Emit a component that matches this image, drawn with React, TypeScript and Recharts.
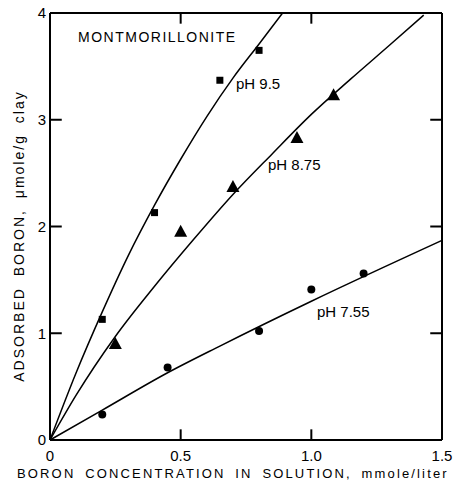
import React from 'react'
import {
  ComposedChart,
  Line,
  Scatter,
  XAxis,
  YAxis,
} from 'recharts'

// measured points
const ph95X = [0.2, 0.4, 0.65, 0.8]
const ph95Y = [1.13, 2.13, 3.37, 3.65]
const ph875X = [0.25, 0.5, 0.7, 0.945, 1.085]
const ph875Y = [0.9, 1.95, 2.37, 2.83, 3.23]
const ph755X = [0.2, 0.45, 0.8, 1.0, 1.2]
const ph755Y = [0.24, 0.68, 1.02, 1.41, 1.56]

// fitted curves
const curve95X = [0, 0.1, 0.2, 0.3, 0.4, 0.5, 0.6, 0.7, 0.8, 0.89]
const curve95Y = [0, 0.63, 1.2, 1.73, 2.2, 2.63, 3.03, 3.39, 3.71, 4.0]
const curve875X = [0, 0.1, 0.25, 0.4, 0.55, 0.7, 0.85, 1.0, 1.15, 1.3, 1.43]
const curve875Y = [0, 0.42, 0.97, 1.44, 1.88, 2.3, 2.68, 3.05, 3.38, 3.7, 3.98]
const curve755X = [0, 0.2, 0.45, 0.65, 1.0, 1.5]
const curve755Y = [0, 0.28, 0.63, 0.88, 1.3, 1.87]

const xTicks = [0, 0.5, 1, 1.5]
const xTickLabels = ['0', '0.5', '1.0', '1.5']
const yTicks = [0, 1, 2, 3, 4]
const xInner = [0.5, 1]
const yInner = [1, 2, 3]

const X_MAX = 1.5
const Y_MAX = 4
// inward tick length in data units (~11px each way)
const TX = 0.045
const TY = 0.1

const zip = (xs: number[], ys: number[]) => xs.map((x, i) => ({ x, y: ys[i] }))

// frame edges and inward ticks, built from the tick arrays
const frameSegs = [
  [{ x: 0, y: Y_MAX }, { x: X_MAX, y: Y_MAX }],
  [{ x: X_MAX, y: 0 }, { x: X_MAX, y: Y_MAX }],
]
const tickSegs = [
  ...xInner.map((v) => [{ x: v, y: 0 }, { x: v, y: TY }]),
  ...xInner.map((v) => [{ x: v, y: Y_MAX }, { x: v, y: Y_MAX - TY }]),
  ...yInner.map((v) => [{ x: 0, y: v }, { x: TX, y: v }]),
  ...yInner.map((v) => [{ x: X_MAX, y: v }, { x: X_MAX - TX, y: v }]),
]

const FONT = '"Liberation Sans", Arial, sans-serif'
const tickStyle = { fontFamily: FONT, fontSize: 15, fill: '#000' }
const axisLine = { stroke: '#000', strokeWidth: 2 }

const Square = (p: any) => (
  <rect x={p.cx - 3.5} y={p.cy - 3.5} width={7} height={7} fill="#000" />
)
const Triangle = (p: any) => (
  <polygon
    points={`${p.cx},${p.cy - 7} ${p.cx - 6.5},${p.cy + 5} ${p.cx + 6.5},${p.cy + 5}`}
    fill="#000"
  />
)
const Circle = (p: any) => <circle cx={p.cx} cy={p.cy} r={4} fill="#000" />

const txt = (left: number, top: number, size: number, extra: React.CSSProperties = {}) => ({
  position: 'absolute' as const,
  left,
  top,
  fontFamily: FONT,
  fontSize: size,
  color: '#000',
  whiteSpace: 'nowrap' as const,
  lineHeight: 1,
  pointerEvents: 'none' as const,
  ...extra,
})

const segLine = (s: { x: number; y: number }[], key: string, w: number) => (
  <Line
    key={key}
    xAxisId="b"
    yAxisId="l"
    data={s}
    dataKey="y"
    type="linear"
    stroke="#000"
    strokeWidth={w}
    dot={false}
    activeDot={false}
    isAnimationActive={false}
  />
)

export default function App() {
  return (
    <div style={{ position: 'absolute', left: 0, top: 0, width: 453, height: 497, background: '#fff' }}>
      <ComposedChart
        width={453}
        height={497}
        margin={{ top: 13, right: 11, bottom: 27, left: 0 }}
      >
        <XAxis
          xAxisId="b"
          dataKey="x"
          type="number"
          domain={[0, X_MAX]}
          ticks={xTicks}
          tickFormatter={(v: number) => xTickLabels[xTicks.indexOf(v)] ?? String(v)}
          height={30}
          tickSize={0}
          tickMargin={10}
          tickLine={false}
          tick={tickStyle}
          axisLine={axisLine}
        />
        <YAxis
          yAxisId="l"
          type="number"
          domain={[0, Y_MAX]}
          ticks={yTicks}
          width={50}
          tickSize={0}
          tickMargin={4}
          tickLine={false}
          tick={tickStyle}
          axisLine={axisLine}
        />

        <Line
          xAxisId="b"
          yAxisId="l"
          data={zip(curve95X, curve95Y)}
          dataKey="y"
          type="monotone"
          stroke="#000"
          strokeWidth={1.5}
          dot={false}
          activeDot={false}
          isAnimationActive={false}
        />
        <Line
          xAxisId="b"
          yAxisId="l"
          data={zip(curve875X, curve875Y)}
          dataKey="y"
          type="monotone"
          stroke="#000"
          strokeWidth={1.5}
          dot={false}
          activeDot={false}
          isAnimationActive={false}
        />
        <Line
          xAxisId="b"
          yAxisId="l"
          data={zip(curve755X, curve755Y)}
          dataKey="y"
          type="monotone"
          stroke="#000"
          strokeWidth={1.5}
          dot={false}
          activeDot={false}
          isAnimationActive={false}
        />

        {frameSegs.map((s, i) => segLine(s, `f${i}`, 2))}
        {tickSegs.map((s, i) => segLine(s, `t${i}`, 2))}

        <Scatter xAxisId="b" yAxisId="l" data={zip(ph95X, ph95Y)} dataKey="y" shape={Square} isAnimationActive={false} />
        <Scatter xAxisId="b" yAxisId="l" data={zip(ph875X, ph875Y)} dataKey="y" shape={Triangle} isAnimationActive={false} />
        <Scatter xAxisId="b" yAxisId="l" data={zip(ph755X, ph755Y)} dataKey="y" shape={Circle} isAnimationActive={false} />
      </ComposedChart>

      <div style={txt(78, 30, 14, { letterSpacing: 1.5 })}>MONTMORILLONITE</div>
      <div style={txt(236, 76, 15)}>pH 9.5</div>
      <div style={txt(268, 157, 15)}>pH 8.75</div>
      <div style={txt(317, 304, 15)}>pH 7.55</div>
      <div style={txt(17, 467, 13, { letterSpacing: 2.15, wordSpacing: 4 })}>
        BORON CONCENTRATION IN SOLUTION, mmole/liter
      </div>
      <div
        style={txt(19, 235.5, 14, {
          letterSpacing: 2,
          wordSpacing: 5,
          transform: 'translate(-50%, -50%) rotate(-90deg)',
        })}
      >
        ADSORBED BORON, μmole/g clay
      </div>
    </div>
  )
}
